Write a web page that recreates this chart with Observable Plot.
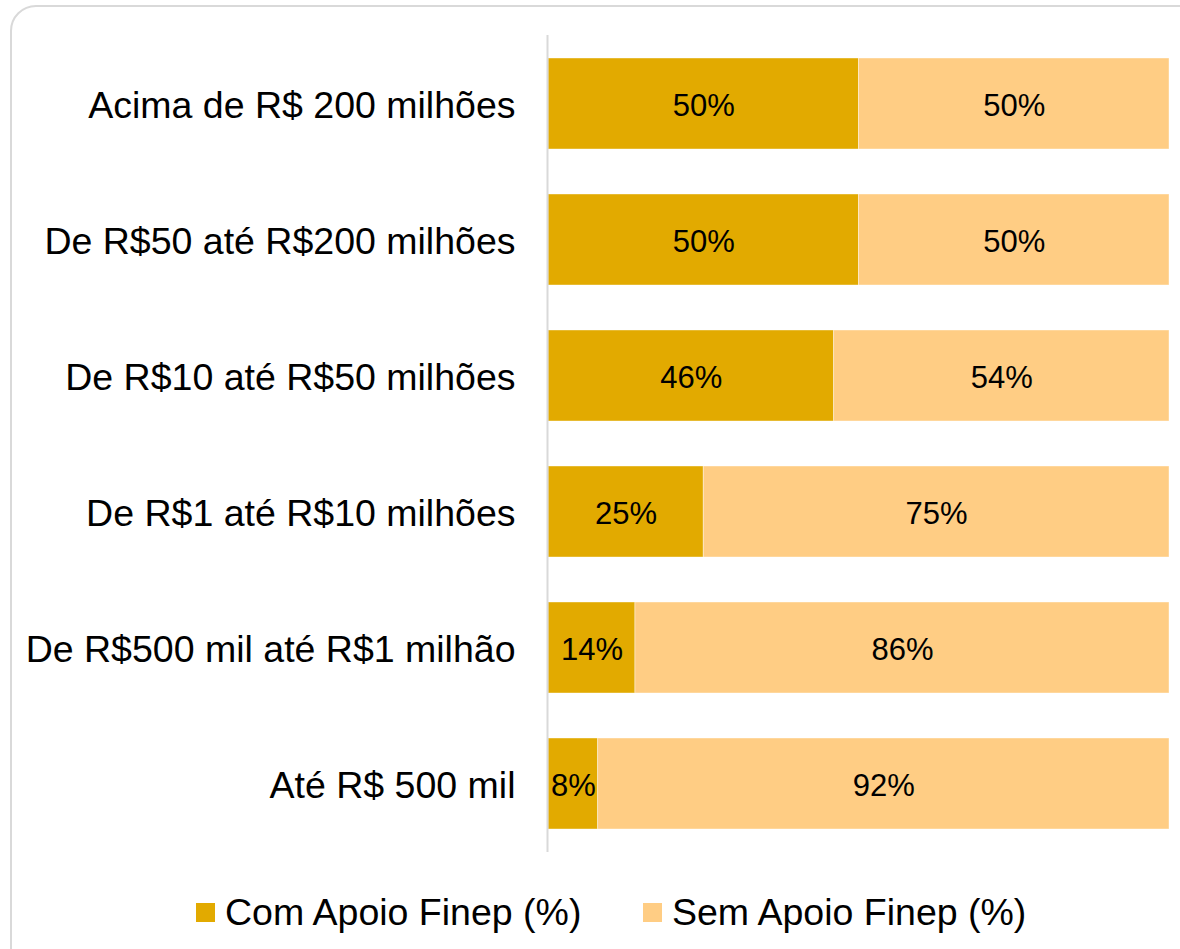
<!DOCTYPE html>
<html>
<head>
<meta charset="utf-8">
<script src="https://cdn.jsdelivr.net/npm/d3@7"></script>
<script src="https://cdn.jsdelivr.net/npm/@observablehq/plot@0.6"></script>
<style>
  html, body { margin: 0; padding: 0; background: #fff; }
  body { width: 1180px; height: 949px; overflow: hidden; position: relative; font-family: "Liberation Sans", Arial, sans-serif; }
  #frame { position: absolute; left: 10px; top: 5px; width: 1220px; height: 1000px; border: 2px solid #d9d9d9; border-radius: 26px; box-sizing: border-box; }
  #chart { position: absolute; left: 0; top: 0; }
  #legend { position: absolute; left: 0; top: 890px; width: 1180px; height: 44px; }
  .item { position: absolute; top: 0; display: flex; align-items: center; height: 44px; font-size: 37.5px; color: #000; }
  .sw { width: 19px; height: 19px; margin-right: 10px; }
</style>
</head>
<body>
<div id="frame"></div>
<div id="chart"></div>
<div id="legend"></div>
<script>
const categories = [
  "Acima de R$ 200 milhões",
  "De R$50 até R$200 milhões",
  "De R$10 até R$50 milhões",
  "De R$1 até R$10 milhões",
  "De R$500 mil até R$1 milhão",
  "Até R$ 500 mil"
];
const comApoio = [50, 50, 46, 25, 14, 8];
const semApoio = [50, 50, 54, 75, 86, 92];
const seriesNames = ["Com Apoio Finep (%)", "Sem Apoio Finep (%)"];
const seriesColors = ["#E2AA00", "#FFCD84"];

const data = [];
categories.forEach((c, i) => {
  data.push({cat: c, series: seriesNames[0], value: comApoio[i]});
  data.push({cat: c, series: seriesNames[1], value: semApoio[i]});
});

const chart = Plot.plot({
  width: 1180,
  height: 870,
  marginTop: 35,
  marginBottom: 18,
  marginLeft: 548,
  marginRight: 11,
  style: {fontFamily: "'Liberation Sans', Arial, sans-serif", background: "transparent", color: "#000"},
  x: {domain: [0, 100], axis: null},
  y: {domain: categories, paddingInner: 0.33, paddingOuter: 0.165, label: null},
  color: {domain: seriesNames, range: seriesColors},
  marks: [
    Plot.barX(data, Plot.stackX({x: "value", y: "cat", z: "series", fill: "series", order: seriesNames, stroke: "white", strokeWidth: 0.8, strokeOpacity: 0.5})),
    Plot.ruleX([0], {stroke: "#d9d9d9", strokeWidth: 2, dx: -1}),
    Plot.textX(data, Plot.stackX({x: "value", y: "cat", z: "series", order: seriesNames, text: d => d.value + "%", fill: "#000", fontSize: 31, dy: 2})),
    Plot.axisY({tickSize: 0, tickPadding: 33, fontSize: 37.5, label: null, fill: "#000", dy: 2})
  ]
});
document.getElementById("chart").appendChild(chart);

const legend = document.getElementById("legend");
const legendX = [196, 643];
seriesNames.forEach((s, i) => {
  const it = document.createElement("div");
  it.className = "item";
  it.style.left = legendX[i] + "px";
  const sw = document.createElement("div");
  sw.className = "sw";
  sw.style.background = seriesColors[i];
  const t = document.createElement("span");
  t.textContent = s;
  it.appendChild(sw);
  it.appendChild(t);
  legend.appendChild(it);
});
</script>
</body>
</html>
